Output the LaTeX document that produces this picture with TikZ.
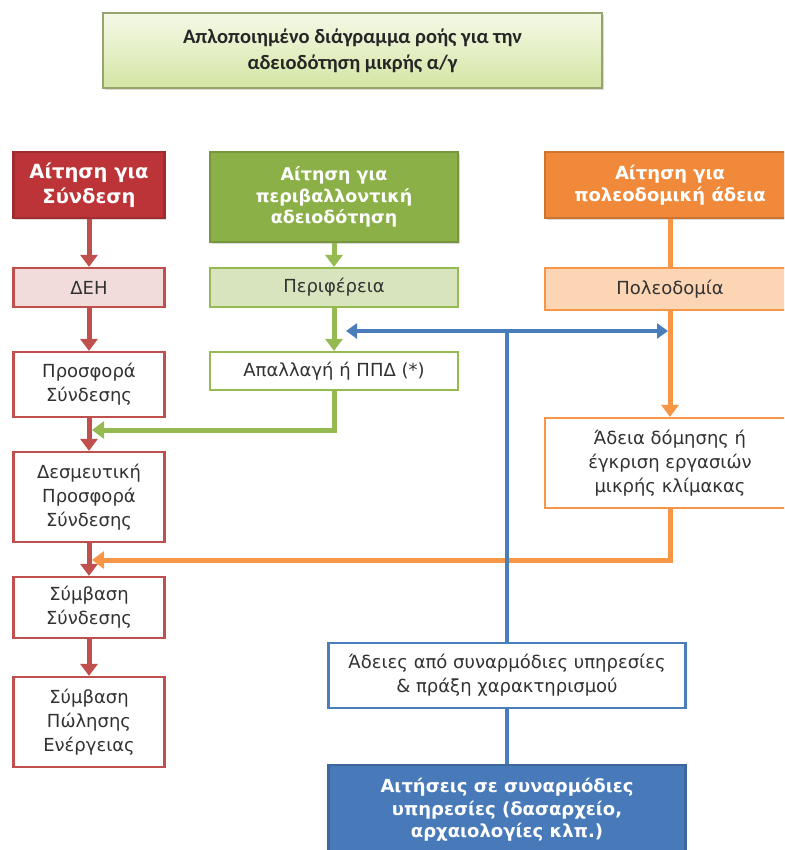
\documentclass[tikz,border=0pt]{standalone}
\usepackage{fontspec}
\setmainfont{DejaVu Sans}
\newfontfamily\titlefont{Carlito}
\usetikzlibrary{arrows.meta,shadows}

\definecolor{rhead}{RGB}{188,52,55}
\definecolor{rline}{RGB}{192,80,77}
\definecolor{rlight}{RGB}{242,220,219}
\definecolor{ghead}{RGB}{140,176,72}
\definecolor{gline}{RGB}{150,186,82}
\definecolor{glight}{RGB}{215,228,189}
\definecolor{ohead}{RGB}{240,138,58}
\definecolor{oline}{RGB}{247,150,70}
\definecolor{olight}{RGB}{252,213,181}
\definecolor{bline}{RGB}{74,126,187}
\definecolor{bhead}{RGB}{72,122,186}
\definecolor{txt}{RGB}{50,50,50}
\definecolor{ttop}{RGB}{244,249,230}
\definecolor{tbot}{RGB}{212,229,164}
\definecolor{tframe}{RGB}{150,165,110}

\begin{document}
\begin{tikzpicture}[x=1pt,y=-1pt,
    box/.style={draw,line width=2.2pt,inner sep=0pt,align=center,text=txt,
      font=\fontsize{18}{24}\selectfont},
    head/.style={box,text=white,font=\bfseries\fontsize{18}{22.5}\selectfont,
      drop shadow={shadow xshift=1.5pt,shadow yshift=-2pt,opacity=0.3}},
    tip/.style={-{Triangle[width=17pt,length=12pt]}},
    rarrow/.style={rline,line width=5pt,tip},
    garrow/.style={gline,line width=5pt,tip},
    oarrow/.style={oline,line width=5pt,tip},
    barrow/.style={bline,line width=4pt}]

    \clip (0,0) rectangle (784,850);
    \fill[white] (0,0) rectangle (784,850);

    % title
    \node[draw=tframe,line width=1.5pt,top color=ttop,bottom color=tbot,
      drop shadow={shadow xshift=2pt,shadow yshift=-2.5pt,opacity=0.3},
      minimum width=499pt,minimum height=75pt,align=center,text=black!85,
      font=\titlefont\bfseries\fontsize{20.5}{26}\selectfont] (title) at (352.5,50.5)
      {Απλοποιημένο διάγραμμα ροής για την\\αδειοδότηση μικρής α/γ};

    % red column
    \node[head,fill=rhead,draw=rhead!85!black,minimum width=151pt,minimum height=66pt,
      font=\bfseries\fontsize{19.5}{25}\selectfont] (rHead) at (89,185) {Αίτηση για\\Σύνδεση};
    \node[box,fill=rlight,draw=rline,minimum width=151pt,minimum height=39pt] (deh) at (89,287.5) {ΔΕΗ};
    \node[box,fill=white,draw=rline,minimum width=151pt,minimum height=65pt] (prosfora) at (89,384.5) {Προσφορά\\Σύνδεσης};
    \node[box,fill=white,draw=rline,minimum width=151pt,minimum height=90pt] (desmeutiki) at (89,497) {Δεσμευτική\\Προσφορά\\Σύνδεσης};
    \node[box,fill=white,draw=rline,minimum width=151pt,minimum height=61pt] (symvasi) at (89,607.5) {Σύμβαση\\Σύνδεσης};
    \node[box,fill=white,draw=rline,minimum width=151pt,minimum height=90pt] (polisi) at (89,722) {Σύμβαση\\Πώλησης\\Ενέργειας};

    % green column
    \node[head,fill=ghead,draw=ghead!85!black,minimum width=248pt,minimum height=90pt,
      font=\bfseries\fontsize{17.5}{21.5}\selectfont] (gHead) at (334,197) {Αίτηση για\\περιβαλλοντική\\αδειοδότηση};
    \node[box,fill=glight,draw=gline,minimum width=248pt,minimum height=39pt] (perif) at (334,287.5) {Περιφέρεια};
    \node[box,fill=white,draw=gline,minimum width=248pt,minimum height=38pt] (apallagi) at (334,371) {Απαλλαγή ή ΠΠΔ (*)};

    % orange column
    \node[head,fill=ohead,draw=ohead!85!black,minimum width=250pt,minimum height=66pt] (oHead) at (670,185) {Αίτηση για\\πολεοδομική άδεια};
    \node[box,fill=olight,draw=oline,minimum width=250pt,minimum height=42pt] (poleo) at (670,289) {Πολεοδομία};
    \node[box,fill=white,draw=oline,minimum width=250pt,minimum height=90pt] (adeia) at (670,463) {Άδεια δόμησης ή\\έγκριση εργασιών\\μικρής κλίμακας};

    % blue column
    \node[box,fill=white,draw=bline,minimum width=357pt,minimum height=65pt] (adeies) at (507,675.5) {Άδειες από συναρμόδιες υπηρεσίες\\\& πράξη χαρακτηρισμού};
    \node[head,fill=bhead,draw=bhead!85!black,minimum width=357pt,minimum height=90pt] (aitiseis) at (507,810) {Αιτήσεις σε συναρμόδιες\\υπηρεσίες (δασαρχείο,\\αρχαιολογίες κλπ.)};

    \coordinate (gjoin) at (92,430);
    \coordinate (ojoin) at (92,560);
    \coordinate (bleft) at (346,331);
    \coordinate (bright) at (668,331);
    \coordinate (bfork) at (507,331);

    \draw[rarrow] (rHead.south) -- (deh.north);
    \draw[rarrow] (deh.south) -- (prosfora.north);
    \draw[rarrow] (prosfora.south) -- (desmeutiki.north);
    \draw[rarrow] (desmeutiki.south) -- (symvasi.north);
    \draw[rarrow] (symvasi.south) -- (polisi.north);

    \draw[garrow] (gHead.south) -- (perif.north);
    \draw[garrow] (perif.south) -- (apallagi.north);
    \draw[garrow] (apallagi.south) |- (gjoin); % to offer

    \draw[oline,line width=5pt] (oHead.south) -- (poleo.north);
    \draw[oarrow] (poleo.south) -- (adeia.north);
    \draw[oarrow] (adeia.south) |- (ojoin); % to contract

    \draw[barrow] (bfork) -- (adeies.north);
    \draw[barrow] (adeies.south) -- (aitiseis.north);
    \draw[barrow,{Triangle[width=15pt,length=11pt]}-{Triangle[width=15pt,length=11pt]}] (bleft) -- (bright);
\end{tikzpicture}
\end{document}
